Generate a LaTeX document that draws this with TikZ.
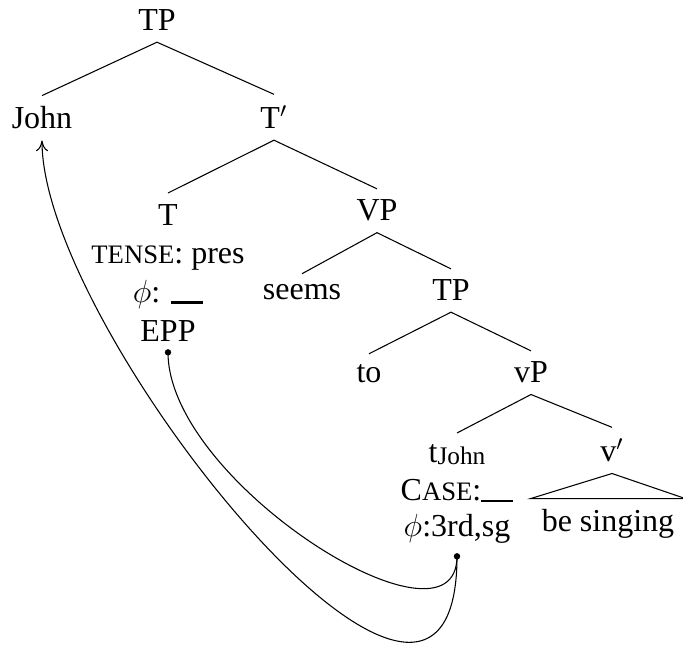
\documentclass[12pt,tikz,border=0pt]{standalone}
\usepackage{fontspec}
\setmainfont{Liberation Serif}
\usetikzlibrary{arrows.meta}

\newcommand{\fsc}[1]{{\fontsize{10pt}{11pt}\selectfont #1}}
\newcommand{\blank}{\rule[-0.4pt]{12pt}{0.8pt}}
\newcommand{\trsub}[1]{\raisebox{-1pt}{\fontsize{9.5pt}{10pt}\selectfont #1}}

\tikzset{
  lbl/.style={anchor=base},
  feats/.style={anchor=north, align=center},
  dot/.style={circle, fill, inner sep=0pt, minimum size=2.4pt}
}

\begin{document}
\begin{tikzpicture}[x=0.375pt,y=-0.375pt]
\useasboundingbox (0,0) rectangle (683,656);

\node[lbl] (TP) at (157,31) {TP};
\node[lbl] (John) at (42,129) {John};
\node[lbl] (Tbar) at (274,129) {T$'$};
\node[feats] (T) at (168,193) {T\\ \fsc{TENSE}: pres\\ $\phi$: \blank\\ EPP};
\node[lbl] (VP) at (377,221) {VP};
\node[lbl] (seems) at (302,300) {seems};
\node[lbl] (TPlow) at (451,301) {TP};
\node[lbl] (to) at (369,383) {to};
\node[lbl] (vP) at (531,383) {vP};
\node[feats] (trace) at (457,433) {t\trsub{John}\\ C\fsc{ASE}:\blank\\[-1pt] $\phi$:3rd,sg};
\node[lbl] (vbar) at (612,462) {v$'$};
\node[lbl] (sing) at (608,532) {be singing};

\draw (TP.south) -- (John.north);
\draw (TP.south) -- (Tbar.north);
\draw (Tbar.south) -- (T.north);
\draw (Tbar.south) -- (VP.north);
\draw (VP.south) -- (seems.north);
\draw (VP.south) -- (TPlow.north);
\draw (TPlow.south) -- (to.north);
\draw (TPlow.south) -- (vP.north);
\draw (vP.south) -- (trace.north);
\draw (vP.south) -- (vbar.north);
\draw (vbar.south) -- (sing.north west) -- (sing.north east) -- cycle;

% agreement and movement
\node[dot] (eppdot) at (T.south) {};
\node[dot] (phidot) at ([yshift=-0.5pt]trace.south) {};
\draw (eppdot.center) to[out=-90, in=-90, out distance=49pt, in distance=40pt] (phidot.center);
\draw[-{To[length=4pt,width=4.5pt]}] (phidot.center) to[out=-90, in=-90, out distance=108pt, in distance=72pt] (John.south);

\end{tikzpicture}
\end{document}
